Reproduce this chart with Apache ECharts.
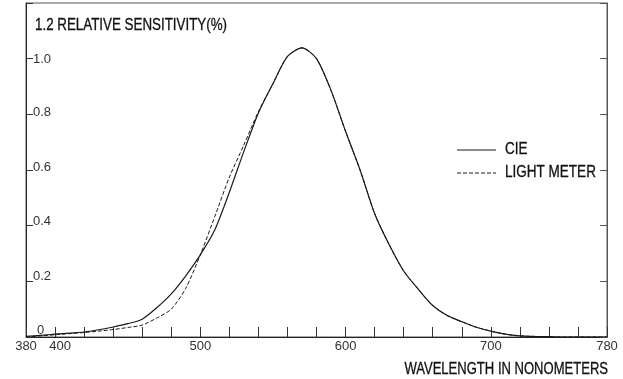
<!DOCTYPE html>
<html>
<head>
<meta charset="utf-8">
<script src="https://cdn.jsdelivr.net/npm/echarts@6/dist/echarts.min.js"></script>
<style>
html,body{margin:0;padding:0;background:#fff;}
#chart{width:623px;height:379px;}
</style>
</head>
<body>
<div id="chart"></div>
<script>
// Wavelengths (nm) and relative sensitivity values
var wavelengths = [380,390,400,410,420,430,440,450,460,470,480,490,500,510,520,530,540,550,560,570,580,590,600,610,620,630,640,650,660,670,680,690,700,710,720,730,740,750,760,770,780];
var cieValues = [0.002,0.006,0.01,0.014,0.018,0.026,0.036,0.048,0.064,0.105,0.155,0.22,0.295,0.385,0.52,0.667,0.805,0.91,1.008,1.039,1.0,0.886,0.739,0.60,0.444,0.332,0.237,0.172,0.113,0.077,0.055,0.035,0.021,0.01,0.004,0.002,0.001,0,0,0,0];
var lightMeterValues = [0,0.004,0.008,0.012,0.016,0.021,0.027,0.034,0.043,0.068,0.10,0.175,0.295,0.433,0.574,0.69,0.81,0.91,1.008,1.039,1.0,0.886,0.739,0.60,0.444,0.332,0.237,0.172,0.113,0.077,0.055,0.035,0.021,0.01,0.004,0.002,0.001,0,0,0,0];
var xTickLabels = [380,400,500,600,700,780];
var yTickLabels = [0,0.2,0.4,0.6,0.8,1.0];
var seriesNames = ['CIE','LIGHT METER'];
var titleText = '1.2 RELATIVE SENSITIVITY(%)';
var xAxisTitle = 'WAVELENGTH IN NONOMETERS';

var textFont = '"Liberation Sans",Arial,sans-serif';
var numFont = '"Liberation Sans",Arial,sans-serif';
var ink = '#1a1a1a';
var dashPattern = [4,2];

function pairs(xs, ys){ return xs.map(function(x,i){ return [x, ys[i]]; }); }

// per-label vertical nudges for y tick labels (rich styles)
var yRich = {
  l0:{padding:[0,0,14,4]},
  l1:{padding:[0,0,10,0]},
  l2:{padding:[0,0,8,0]},
  l3:{padding:[0,0,6,0]},
  l4:{padding:[0,0,3,0]},
  l5:{padding:[2,0,0,0]}
};
Object.keys(yRich).forEach(function(k){
  yRich[k].fontFamily = numFont; yRich[k].fontSize = 13; yRich[k].color = '#333';
});

function condensedText(x, y, text, align, sx){
  return {
    type:'text', x:x, y:y, scaleX:sx, silent:true,
    style:{text:text, fontFamily:textFont, fontSize:16, fill:'#111', stroke:'#111', lineWidth:0.3, align:align, verticalAlign:'middle'}
  };
}

var graphics = [
  condensedText(35, 26, titleText, 'left', 0.835),
  condensedText(608, 370, xAxisTitle, 'right', 0.815)
];
seriesNames.forEach(function(name, i){
  var cy = 150 + i*23;
  graphics.push({
    type:'line', silent:true,
    shape:{x1:457, y1:cy, x2:496, y2:cy},
    style:{stroke:ink, lineWidth:i === 0 ? 1.2 : 1, lineDash:i === 0 ? null : dashPattern}
  });
  graphics.push(condensedText(505, cy, name, 'left', 0.845));
});

var chart = echarts.init(document.getElementById('chart'), null, {renderer:'canvas'});
chart.setOption({
  animation:false,
  backgroundColor:'#fff',
  graphic:graphics,
  grid:{left:26, right:16, top:3, bottom:42, show:true, borderColor:'#555', borderWidth:1},
  xAxis:{
    type:'value', min:380, max:780, interval:20,
    axisLine:{lineStyle:{color:'#222', width:1}},
    axisTick:{inside:true, length:10, lineStyle:{color:'#333'}},
    splitLine:{show:false},
    axisLabel:{
      margin:3, fontFamily:numFont, fontSize:13, color:'#333',
      formatter:function(v){
        if (xTickLabels.indexOf(v) < 0) return '';
        if (v === 400) return '{s|' + v + '}';
        return '' + v;
      },
      rich:{s:{fontFamily:numFont, fontSize:13, color:'#333', padding:[0,0,0,10]}}
    }
  },
  yAxis:[
    {
      type:'value', min:0, max:1.2, interval:0.2, position:'left',
      axisLine:{show:true, lineStyle:{color:'#222', width:1}},
      axisTick:{show:true, inside:true, length:7, lineStyle:{color:'#333'}},
      splitLine:{show:false},
      axisLabel:{
        inside:true, margin:7, fontFamily:numFont, fontSize:13, color:'#333',
        verticalAlign:'middle',
        formatter:function(v){
          var r = Math.round(v*10)/10;
          for (var i=0;i<yTickLabels.length;i++){
            if (Math.abs(yTickLabels[i]-r) < 1e-6) return '{l' + i + '|' + (r === 0 ? '0' : r.toFixed(1)) + '}';
          }
          return '';
        },
        rich:yRich
      }
    },
    {
      type:'value', min:0, max:1.2, interval:0.2, position:'right',
      axisLine:{show:true, lineStyle:{color:'#555', width:1}},
      axisTick:{show:true, inside:true, length:7, lineStyle:{color:'#555'}},
      axisLabel:{show:false},
      splitLine:{show:false}
    }
  ],
  series:[
    {
      name:seriesNames[0], type:'line', data:pairs(wavelengths, cieValues),
      symbol:'none', showSymbol:false, smooth:0.25, z:3,
      lineStyle:{color:ink, width:1.2, type:'solid'}
    },
    {
      name:seriesNames[1], type:'line', data:pairs(wavelengths, lightMeterValues),
      symbol:'none', showSymbol:false, smooth:0.25, z:2,
      lineStyle:{color:ink, width:1, type:dashPattern}
    }
  ]
});
</script>
</body>
</html>
